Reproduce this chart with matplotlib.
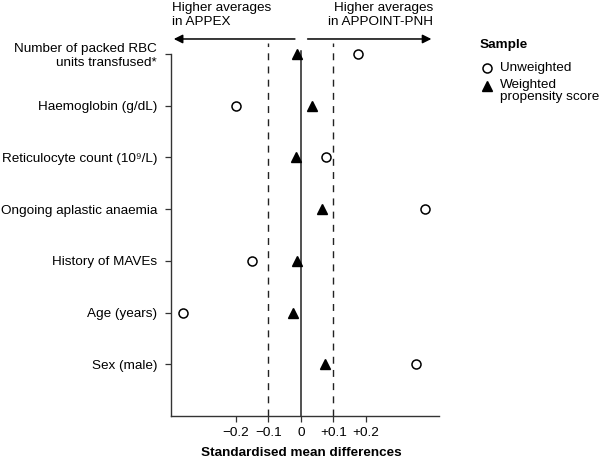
import matplotlib.pyplot as plt

plt.rcParams['font.family'] = ['Liberation Sans', 'DejaVu Sans']

variables = ['Number of packed RBC\nunits transfused*', 'Haemoglobin (g/dL)',
             'Reticulocyte count (10\u2079/L)', 'Ongoing aplastic anaemia',
             'History of MAVEs', 'Age (years)', 'Sex (male)']
unweighted = [0.176, -0.200, 0.078, 0.383, -0.152, -0.364, 0.354]
weighted = [-0.012, 0.034, -0.016, 0.066, -0.013, -0.025, 0.073]
xticks = [-0.2, -0.1, 0, 0.1, 0.2]
xticklabels = ['\u22120.2', '\u22120.1', '0', '+0.1', '+0.2']

fs = 9.7
fig = plt.figure(figsize=(6, 4.63), dpi=100)
ax = fig.add_axes([0.285, 0.1015, 0.4467, 0.7819])

rows = list(range(len(variables)))
ax.plot(unweighted, rows, 'o', ms=6.5, mfc='white', mec='black', mew=1.1,
        clip_on=False, zorder=3)
ax.plot(weighted, rows, '^', ms=7, color='black', clip_on=False, zorder=3)

ax.set_xlim(-0.4, 0.425)
ax.set_ylim(7, 0)
ax.plot([0, 0], [7, -0.06], color='#222222', lw=1.1, clip_on=False)
for v in [-0.1, 0.1]:
    ax.plot([v, v], [7, -0.21], color='#222222', lw=1, dashes=(5, 4.5), clip_on=False)

ax.set_yticks(rows)
ax.set_yticklabels(variables, fontsize=fs)
ax.set_xticks(xticks)
ax.set_xticklabels(xticklabels, fontsize=fs)
ax.tick_params(length=4, width=0.9, color='#333333')
ax.tick_params(axis='y', pad=6)
ax.tick_params(axis='x', pad=4)
for s in ['top', 'right']:
    ax.spines[s].set_visible(False)
for s in ['left', 'bottom']:
    ax.spines[s].set_color('#333333')
    ax.spines[s].set_linewidth(1)

ax.text(0, -0.085, 'Standardised mean differences', transform=ax.get_xaxis_transform(),
        ha='center', va='top', fontsize=fs, fontweight='bold')

# direction arrows
ax.annotate('', xy=(-0.4, -0.29), xytext=(-0.01, -0.29),
            arrowprops=dict(arrowstyle='-|>', color='black', lw=1.1, mutation_scale=13),
            annotation_clip=False)
ax.annotate('', xy=(0.41, -0.29), xytext=(0.012, -0.29),
            arrowprops=dict(arrowstyle='-|>', color='black', lw=1.1, mutation_scale=13),
            annotation_clip=False)
ax.text(-0.398, -0.5, 'Higher averages\nin APPEX', ha='left', va='bottom', fontsize=fs,
        linespacing=1.25)
ax.text(0.406, -0.5, 'Higher averages\nin APPOINT-PNH', ha='right', va='bottom', fontsize=fs,
        linespacing=1.25)

# legend drawn by hand
fig.text(480 / 600, 1 - 45 / 463, 'Sample', ha='left', va='center', fontsize=fs,
         fontweight='bold')
fig.add_artist(plt.Line2D([487 / 600], [1 - 68 / 463], marker='o', ms=6.5, mfc='white',
                          mec='black', mew=1.1, transform=fig.transFigure))
fig.text(500 / 600, 1 - 68 / 463, 'Unweighted', ha='left', va='center', fontsize=fs)
fig.add_artist(plt.Line2D([487 / 600], [1 - 86 / 463], marker='^', ms=7, color='black',
                          transform=fig.transFigure))
fig.text(500 / 600, 1 - 79 / 463, 'Weighted\npropensity score', ha='left', va='top',
         fontsize=fs, linespacing=1.05)

fig.savefig('out.png', dpi=100)
